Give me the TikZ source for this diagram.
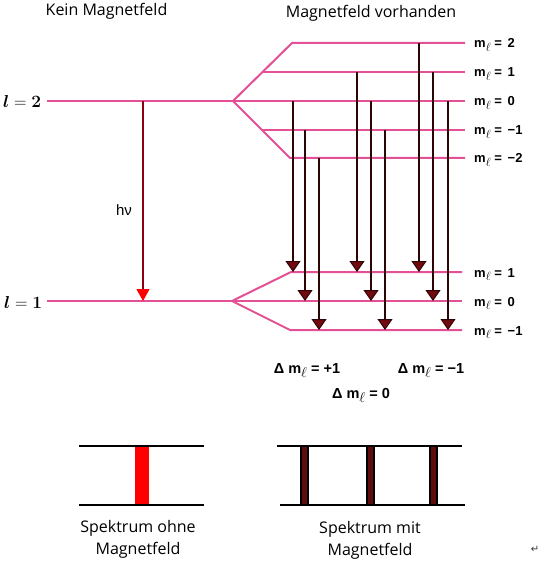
\documentclass[tikz,border=0pt]{standalone}
\usepackage{fontspec}
\usepackage{bm}
\setmainfont{Open Sans}
\newfontfamily\lsans{Liberation Sans}
\newfontfamily\djv{DejaVu Sans}
\usetikzlibrary{arrows.meta}
\definecolor{lvl}{RGB}{228,80,150}
\definecolor{shaft}{RGB}{45,5,5}
\definecolor{headfill}{RGB}{115,10,15}
\definecolor{redline}{RGB}{140,0,15}
\definecolor{specbar}{RGB}{95,12,12}
\newcommand{\mlsub}{\raisebox{-0.3em}{$\ell$}}
\tikzset{
  lvline/.style={draw=lvl, line width=2pt},
  trans/.style={draw=shaft, line width=2pt, -{Triangle[width=15pt,length=11pt,fill=headfill,line width=1pt]}},
  mainarrow/.style={draw=redline, line width=2pt, -{Triangle[width=13pt,length=12pt,fill=red,color=red,line width=1pt]}},
  mlabel/.style={anchor=base west, inner sep=0pt, font=\lsans\bfseries\fontsize{13}{15}\selectfont},
  dlabel/.style={anchor=base, inner sep=0pt, font=\lsans\bfseries\fontsize{14.5}{16}\selectfont},
  llabel/.style={anchor=base west, inner sep=0pt, font=\fontsize{18}{20}\selectfont},
  title/.style={anchor=base, inner sep=0pt, font=\fontsize{16}{18}\selectfont},
  caption/.style={anchor=base, inner sep=0pt, align=center, font=\fontsize{16}{22}\selectfont},
  specline/.style={draw=black, line width=2pt},
}
\begin{document}
\begin{tikzpicture}[x=1pt,y=-1pt]
\useasboundingbox (0,0) rectangle (543,561);
\fill[white] (0,0) rectangle (543,561);
% titles
\node[title] (t1) at (106.5,16) {Kein Magnetfeld};
\node[title] (t2) at (371,17.5) {Magnetfeld vorhanden};
% left levels
\node[llabel] (l2) at (3,108) {$\bm{l} = \bm{2}$};
\node[llabel] (l1) at (4,308) {$\bm{l} = \bm{1}$};
\coordinate (L2a) at (47,101);
\coordinate (V2) at (233,101);
\coordinate (L1a) at (47,301);
\coordinate (V1) at (232,301);
\draw[lvline] (L2a) -- (V2);
\draw[lvline] (L1a) -- (V1);
% upper split
\coordinate (u2a) at (292,43);  \coordinate (u2b) at (465,43);
\coordinate (u1a) at (262.5,72);\coordinate (u1b) at (465,72);
\coordinate (u0b) at (465,101);
\coordinate (um1a) at (262,130);\coordinate (um1b) at (465,130);
\coordinate (um2a) at (290,158);\coordinate (um2b) at (465,158);
\draw[lvline] (V2) -- (u2a) -- (u2b);
\draw[lvline] (u1a) -- (u1b);
\draw[lvline] (V2) -- (u0b);
\draw[lvline] (um1a) -- (um1b);
\draw[lvline] (V2) -- (um2a) -- (um2b);
% lower split
\coordinate (d1a) at (291,272); \coordinate (d1b) at (462,272);
\coordinate (d0b) at (462,301);
\coordinate (dm1a) at (290,330);\coordinate (dm1b) at (462,330);
\draw[lvline] (V1) -- (d1a) -- (d1b);
\draw[lvline] (V1) -- (d0b);
\draw[lvline] (V1) -- (dm1a) -- (dm1b);
% m labels
\node[mlabel] (mu2) at (474,48) {m\mlsub{} = \,2};
\node[mlabel] (mu1) at (474,77) {m\mlsub{} = \,1};
\node[mlabel] (mu0) at (474,106) {m\mlsub{} = \,0};
\node[mlabel] (mum1) at (474,135) {m\mlsub{} = \,−1};
\node[mlabel] (mum2) at (474,163) {m\mlsub{} = \,−2};
\node[mlabel] (md1) at (474,277) {m\mlsub{} = \,1};
\node[mlabel] (md0) at (474,306) {m\mlsub{} = \,0};
\node[mlabel] (mdm1) at (474,335) {m\mlsub{} = \,−1};
% main transition
\coordinate (hs) at (143,101);
\coordinate (he) at (143,301);
\draw[mainarrow] (hs) -- (he);
\node[font=\lsans\fontsize{15}{17}\selectfont, inner sep=0pt] (hnu) at (124,210) {hν};
% Zeeman transitions
\foreach \n/\x/\a/\b in {a/293/101/272, b/305/130/301, c/319/158/330,
                         d/357/72/272,  e/371/101/301, f/385/130/330,
                         g/419/43/272,  h/433/72/301,  i/448/101/330} {
  \coordinate (\n s) at (\x,\a);
  \coordinate (\n e) at (\x,\b);
  \draw[trans] (\n s) -- (\n e);
}
% delta labels
\node[dlabel] (dp) at (307,373) {Δ m\mlsub{} = +1};
\node[dlabel] (dm) at (431,373) {Δ m\mlsub{} = −1};
\node[dlabel] (dz) at (361,398) {Δ m\mlsub{} = 0};
% spectrum without field
\coordinate (s1a) at (79,446); \coordinate (s1b) at (204,446);
\coordinate (s1c) at (79,505); \coordinate (s1d) at (204,505);
\fill[red] (135,446) rectangle (149,505);
\draw[specline] (s1a) -- (s1b);
\draw[specline] (s1c) -- (s1d);
% spectrum with field
\coordinate (s2a) at (277,446); \coordinate (s2b) at (462,446);
\coordinate (s2c) at (280,505); \coordinate (s2d) at (465,505);
\foreach \x in {301,367,430} {
  \draw[fill=specbar, line width=1.2pt] (\x,446) rectangle (\x+7,505);
}
\draw[specline] (s2a) -- (s2b);
\draw[specline] (s2c) -- (s2d);
% captions (base anchor = last line baseline)
\node[caption] (c1) at (138,554) {Spektrum ohne\\Magnetfeld};
\node[caption] (c2) at (370,555) {Spektrum mit\\Magnetfeld};
\node[font=\djv\fontsize{10}{12}\selectfont, text=black!80, inner sep=0pt] (ret) at (535,549) {↵};
\end{tikzpicture}
\end{document}
